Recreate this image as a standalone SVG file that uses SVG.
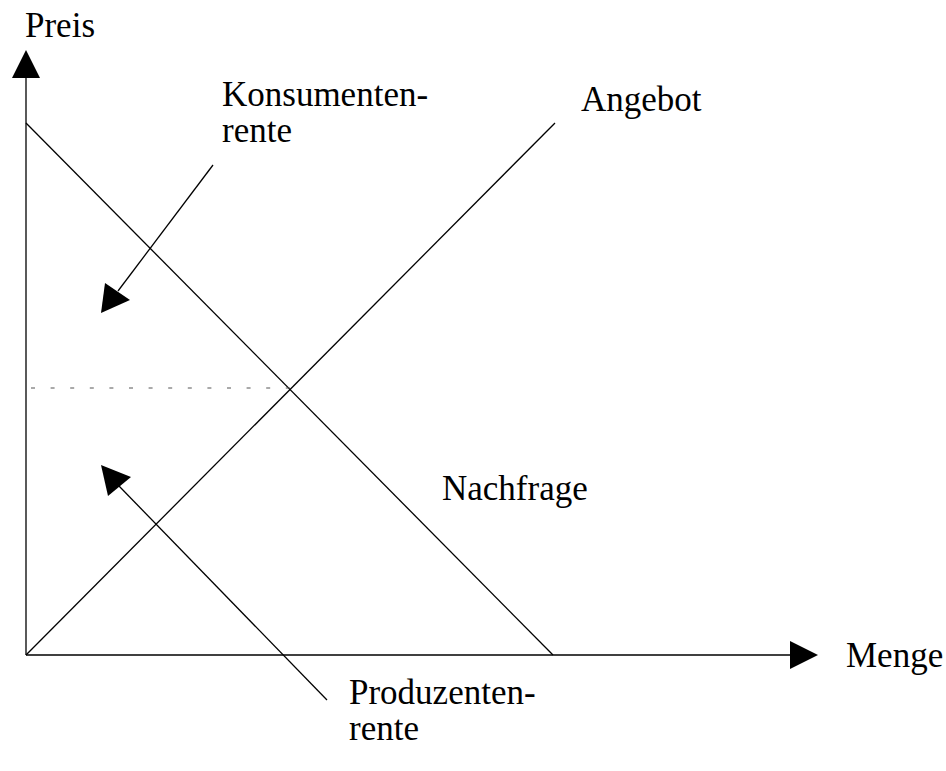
<svg xmlns="http://www.w3.org/2000/svg" width="946" height="771" viewBox="0 0 946 771">
<defs>
<style>
.t{font-family:"Liberation Serif","Times New Roman",serif;font-size:35px;fill:#000}
.ln{stroke:#000;stroke-width:1.3;fill:none}
</style>
</defs>
<rect width="946" height="771" fill="#fff"/>
<g id="connectors">
<line class="ln" x1="26" y1="655" x2="26" y2="78"/>
<polygon points="26,50 12,78 40,78" fill="#000"/>
<line class="ln" x1="26" y1="655" x2="790" y2="655"/>
<polygon points="818,655 790,641 790,669" fill="#000"/>
<line class="ln" x1="26" y1="123" x2="553" y2="655"/>
<line class="ln" x1="26" y1="655" x2="555" y2="123"/>
<line x1="31" y1="388" x2="290" y2="388" stroke="#555" stroke-width="1" stroke-dasharray="4,15.6"/>
<line class="ln" x1="213" y1="165" x2="118" y2="291"/>
<polygon points="101,313 105,283 130,300" fill="#000"/>
<line class="ln" x1="327" y1="700" x2="119" y2="486"/>
<polygon points="101,465 108,496 131,477" fill="#000"/>
</g>
<g id="preis"><text class="t" x="25" y="37">Preis</text></g>
<g id="menge"><text class="t" x="846" y="667">Menge</text></g>
<g id="angebot"><text class="t" x="581" y="111">Angebot</text></g>
<g id="nachfrage"><text class="t" x="442" y="500">Nachfrage</text></g>
<g id="konsumentenrente"><text class="t" x="222" y="106">Konsumenten-</text><text class="t" x="222" y="142">rente</text></g>
<g id="produzentenrente"><text class="t" x="349" y="704">Produzenten-</text><text class="t" x="349" y="740">rente</text></g>
</svg>
